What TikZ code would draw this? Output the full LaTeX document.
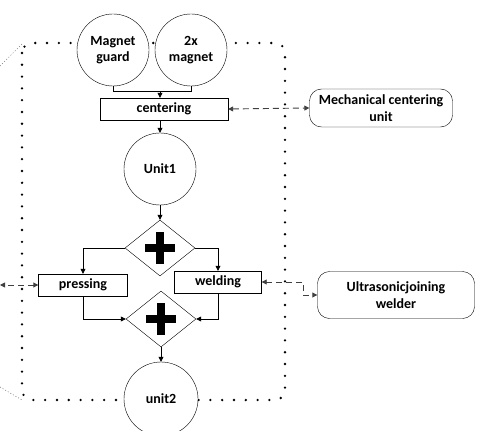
\documentclass[tikz,border=0pt]{standalone}
\usepackage{fontspec}
\setmainfont{Carlito}
\usetikzlibrary{arrows.meta,shapes.geometric,calc}
\tikzset{every node/.style={font=\bfseries\fontsize{14}{16.5}\selectfont}}
\begin{document}
\begin{tikzpicture}[x=1pt,y=-1pt,
  tip/.style={-{Triangle[length=5pt,width=5pt]}},
  dtip/.style={{Triangle[length=5pt,width=5pt]}-{Triangle[length=5pt,width=5pt]}},
  circ/.style={draw,circle,minimum size=72pt,inner sep=0pt,align=center,fill=white},
  box/.style={draw,rectangle,inner sep=0pt,fill=white},
  rbox/.style={draw,rounded corners=12pt,inner sep=0pt,align=center,fill=white},
  gate/.style={draw,diamond,minimum width=70pt,minimum height=56pt,inner sep=0pt,fill=white},
  conn/.style={line width=0.7pt},
  dconn/.style={line width=0.9pt,dash pattern=on 6pt off 4pt,draw=black!75},
  dotted box/.style={line width=2.6pt,line cap=round,dash pattern=on 0pt off 11.8pt}
]
\useasboundingbox (0,0) rectangle (478,430);
% dotted boundary
\draw[dotted box,rounded corners=10pt] (22,43) rectangle (285,400);
\draw[gray,line width=0.6pt,dash pattern=on 1pt off 2pt] (0,66) -- (22,44);
\draw[gray,line width=0.6pt,dash pattern=on 1pt off 2pt] (0,387) -- (22,400);

\node[circ] (mg) at (113,50) {Magnet\\guard};
\node[circ] (mm) at (191,50) {2x\\magnet};
\node[box,minimum width=128pt,minimum height=22pt] (cen) at (164,109) {centering};
\node[circ] (u1) at (160,169) {Unit1};
\node[gate] (g1) at (160,248) {};
\node[gate] (g2) at (161,319) {};
\node[box,minimum width=89pt,minimum height=22pt] (pr) at (83,285) {pressing};
\node[box,minimum width=87pt,minimum height=22pt] (we) at (218,282) {welding};
\node[circ,minimum size=74pt] (u2) at (161,399) {unit2};
\node[rbox,minimum width=143pt,minimum height=38pt] (mcu) at (381,108) {Mechanical centering\\unit};
\node[rbox,minimum width=157pt,minimum height=47pt] (uw) at (396,295) {Ultrasonicjoining\\welder};
\coordinate (lft) at (0,285);

% plus signs
\foreach \g in {g1,g2}{
  \draw[line width=7.5pt] ($(\g)+(-15,0)$) -- ($(\g)+(15,0)$);
  \draw[line width=7.5pt] ($(\g)+(0,-16)$) -- ($(\g)+(0,16)$);
}

% connectors
\draw[conn] (mg.south) -- ++(0,5) -| (mm.south);
\draw[conn,tip] (160,91) -- (cen.north -| 160,0);
\draw[conn,tip] (cen.south -| u1) -- (u1.north);
\draw[conn,tip] (u1.south) -- (g1.north);
\draw[conn,tip] (g1.west) -| (pr.north);
\draw[conn,tip] (g1.east) -| (we.north);
\draw[conn,tip] (pr.south) |- (g2.west);
\draw[conn,tip] (we.south) |- (g2.east);
\draw[conn,tip] (g2.south) -- (u2.north);

% dashed links
\draw[dconn,dtip] (cen.east) -- (mcu.west);
\draw[dconn,dtip] (pr.west) -- (lft);
\draw[dconn,dtip] (we.east) -- (303,282) |- (uw.west);
\end{tikzpicture}
\end{document}
